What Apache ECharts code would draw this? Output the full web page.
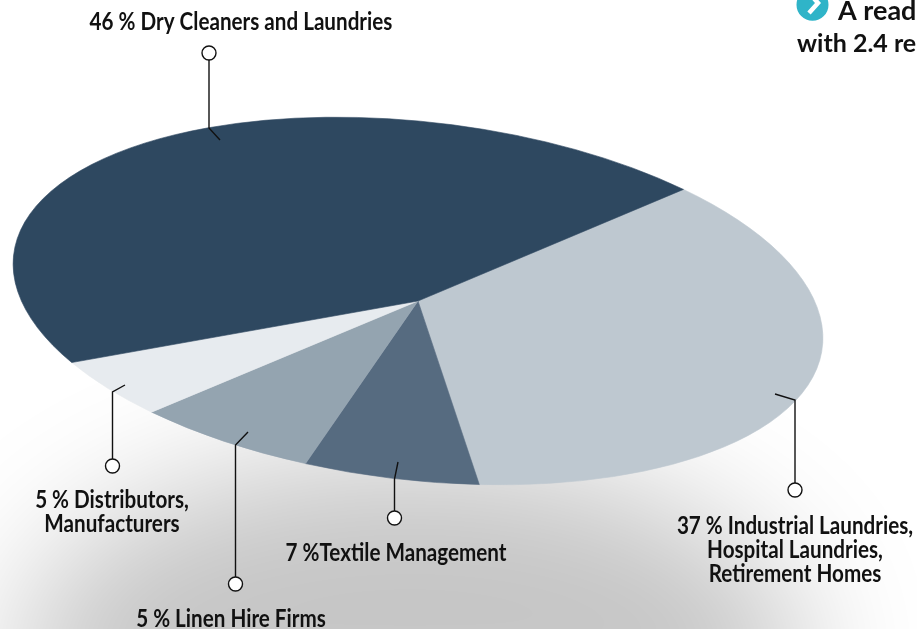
<!DOCTYPE html>
<html><head><meta charset="utf-8">
<style>html,body{margin:0;padding:0;background:#fff;overflow:hidden}#c{width:917px;height:629px}</style>
<script src="https://cdn.jsdelivr.net/npm/echarts@6/dist/echarts.min.js"></script>
</head><body><div id="c"></div>
<script>
var categories = ['Industrial Laundries, Hospital Laundries, Retirement Homes','Textile Management','Linen Hire Firms','Distributors, Manufacturers','Dry Cleaners and Laundries'];
var sliceShares = [36.2, 6.9, 6.95, 4.9, 45.05];
var sliceColors = ['#bec8d0','#566b80','#94a4b0','#e7ebef','#2e4860'];
var labelTexts = ['37 % Industrial Laundries,\nHospital Laundries,\nRetirement Homes','7 %Textile Management','5 % Linen Hire Firms','5 % Distributors,\nManufacturers','46 % Dry Cleaners and Laundries'];
var headerLines = ['A read','with 2.4 re'];

var CX=418, CY=301, RX=407, RATIO=0.44, TILT=6.5*Math.PI/180, START=-51.9*Math.PI/180;
var total = sliceShares.reduce(function(a,b){return a+b;},0);
var callouts = [
 {pts:[[795,483],[795,400],[775,394]],c:[795,490],lx:795,ly:550},
 {pts:[[394.5,511],[394.5,479],[398,462]],c:[394.5,518],lx:396,ly:553},
 {pts:[[235.5,577],[235.5,445],[248,432]],c:[235.5,584],lx:231,ly:619},
 {pts:[[112.5,459],[112.5,392],[125,385]],c:[112.5,466],lx:112,ly:512},
 {pts:[[209,60],[209,128],[220,140]],c:[209,53],lx:241,ly:22}
];
var g = [{
  type:'ellipse', z:-10, silent:true,
  shape:{cx:410-3000,cy:660,rx:395,ry:205},
  style:{fill:'#c6c6c6',shadowColor:'#c6c6c6',shadowBlur:135,shadowOffsetX:3000,shadowOffsetY:0}
}];
callouts.forEach(function(k,i){
  g.push({type:'polyline',z:20,silent:true,shape:{points:k.pts},style:{stroke:'#111',lineWidth:1.4,fill:null}});
  g.push({type:'circle',z:21,silent:true,shape:{cx:k.c[0],cy:k.c[1],r:7},style:{fill:'#fff',stroke:'#111',lineWidth:1.4}});
  g.push({type:'text',z:22,silent:true,x:k.lx,y:k.ly,scaleX:0.86,style:{text:labelTexts[i],font:'bold 24px Lato',fill:'#111',align:'center',verticalAlign:'middle',lineHeight:24}});
});
g.push({type:'circle',z:22,silent:true,shape:{cx:812.5,cy:4.7,r:16},style:{fill:'#2fb4c8'}});
g.push({type:'polyline',z:23,silent:true,shape:{points:[[810,-6],[818,3],[809,13]]},style:{stroke:'#fff',lineWidth:4.5,fill:null}});
g.push({type:'text',z:22,silent:true,x:838,y:11,style:{text:headerLines[0],font:'bold 27px Lato',fill:'#111',align:'left',verticalAlign:'middle'}});
g.push({type:'text',z:22,silent:true,x:797,y:44,style:{text:headerLines[1],font:'bold 25px Lato',fill:'#111',align:'left',verticalAlign:'middle'}});

var chart = echarts.init(document.getElementById('c'),null,{renderer:'canvas'});
chart.setOption({
  animation:false,
  backgroundColor:'#ffffff',
  graphic:{elements:g},
  series:[{
    type:'custom', coordinateSystem:'none', silent:true, z:5,
    data:sliceShares.map(function(v,i){return {name:categories[i],value:v,itemStyle:{color:sliceColors[i]}};}),
    renderItem:function(p,api){
      var before=0; for(var i=0;i<p.dataIndex;i++) before+=sliceShares[i];
      var a0=START+before/total*2*Math.PI, a1=a0+api.value(0)/total*2*Math.PI;
      return {type:'sector',x:CX,y:CY,scaleY:RATIO,rotation:-TILT,
        shape:{cx:0,cy:0,r0:0,r:RX,startAngle:a0,endAngle:a1,clockwise:true},
        style:{fill:sliceColors[p.dataIndex],stroke:sliceColors[p.dataIndex],lineWidth:0.8}};
    }
  }]
});
</script></body></html>
